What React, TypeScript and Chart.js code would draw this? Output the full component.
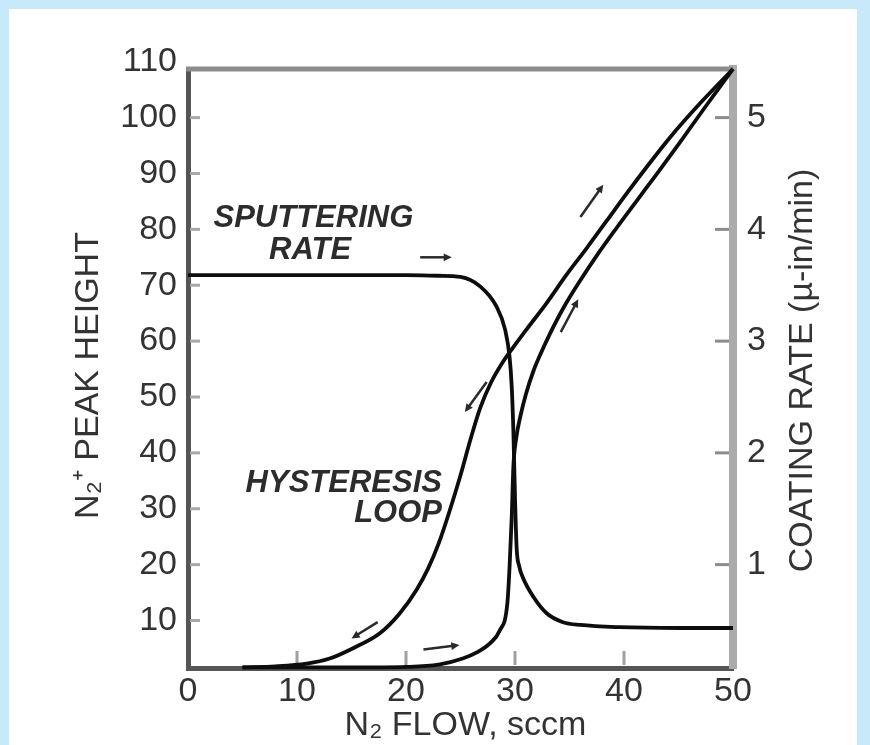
import React, { useEffect, useRef } from "react";
import { Chart, registerables } from "chart.js";

Chart.register(...registerables);

const FONT = '"Liberation Sans", Arial, Helvetica, sans-serif';

// ---- axes ----
const xTickValues = [0, 10, 20, 30, 40, 50];
const heightTickValues = [10, 20, 30, 40, 50, 60, 70, 80, 90, 100, 110];
const rateTickValues = [1, 2, 3, 4, 5];
const X_MIN = 0;
const X_MAX = 50;
const HEIGHT_MIN = 1.5;
const HEIGHT_MAX = 108.7;
const HEIGHT_PER_RATE = 20;

const xTitle = "N₂ FLOW, sccm";
const leftTitle = "N₂⁺ PEAK HEIGHT";
const rightTitle = "COATING RATE (µ-in/min)";

// ---- sputtering (coating) rate, right axis ----
const sputterFlow = [0, 10, 20, 23, 25, 26.8, 28.3, 29.1, 29.5, 29.7, 29.85, 30.0, 30.15, 30.4, 30.7, 31.7, 32.9, 34.4, 36.0, 39.6, 45, 50];
const sputterRate = [3.59, 3.59, 3.59, 3.585, 3.575, 3.49, 3.31, 3.1, 2.86, 2.59, 2.2, 1.6, 1.15, 0.98, 0.89, 0.71, 0.565, 0.485, 0.46, 0.44, 0.433, 0.433];

// ---- hysteresis loop, N2+ peak height, left axis ----
const loopLeftFlow = [5, 8, 10.9, 13.0, 15.1, 17.6, 19.4, 21.0, 22.0, 23.0, 24.0, 25.0, 25.9, 26.8, 27.8, 28.8, 29.8, 31.1, 32.9, 34.7, 36.6, 38.4, 40.2, 42.1, 44.2, 47.0, 50];
const loopLeftHeight = [1.6, 1.8, 2.3, 3.2, 5.0, 7.7, 11.2, 15.6, 19.2, 23.8, 29.6, 36.0, 42.3, 48.0, 52.6, 56.0, 58.8, 62.2, 66.8, 71.8, 76.7, 81.5, 86.3, 91.2, 96.4, 102.6, 108.7];

const loopRightFlow = [5, 15, 20, 23, 25.2, 26.5, 27.7, 28.6, 29.3, 29.5, 29.7, 29.85, 30.1, 30.5, 31.0, 31.7, 32.3, 33.2, 34.4, 36.0, 37.5, 39.3, 41.2, 43.0, 45.1, 47.6, 50];
const loopRightHeight = [1.6, 1.6, 1.7, 2.1, 3.2, 4.3, 5.9, 8.2, 13.1, 19.5, 28.5, 37.5, 42.5, 46.6, 50.5, 54.7, 57.5, 61.3, 65.8, 70.9, 75.3, 80.2, 85.2, 89.9, 95.5, 102.3, 108.7];

// ---- direction arrows (flow, height) from -> to ----
const arrowFromX = [21.3, 36.0, 34.2, 27.4, 17.4, 21.6];
const arrowFromY = [75.0, 82.2, 61.6, 52.7, 9.7, 4.8];
const arrowToX = [24.2, 38.1, 35.8, 25.4, 15.0, 24.9];
const arrowToY = [75.0, 88.0, 67.5, 47.3, 6.8, 5.6];

// ---- in-plot notes ----
const noteText = ["SPUTTERING", "RATE", "HYSTERESIS", "LOOP"];
const noteX = [11.5, 11.2, 23.3, 23.3];
const noteY = [82.0, 76.3, 34.6, 29.1];
const noteAlign = ["center", "center", "right", "right"];

const toPoints = (xs: number[], ys: number[]) => xs.map((x, i) => ({ x, y: ys[i] }));

const decorPlugin = {
  id: "decor",
  beforeDraw(chart: any) {
    const { ctx, width, height } = chart;
    ctx.save();
    ctx.fillStyle = "#c7e9fa";
    ctx.fillRect(0, 0, width, height);
    ctx.fillStyle = "#ffffff";
    ctx.fillRect(9, 9, width - 9 - 13, height - 9);
    ctx.restore();
  },
  beforeDatasetsDraw(chart: any) {
    const { ctx, chartArea: ca, scales } = chart;
    ctx.save();
    // top frame line
    ctx.strokeStyle = "#8c8c8c";
    ctx.lineWidth = 5;
    ctx.beginPath();
    ctx.moveTo(ca.left - 2, ca.top);
    ctx.lineTo(ca.right, ca.top);
    ctx.stroke();
    // inward tick marks
    ctx.fillStyle = "#a8a8a8";
    heightTickValues.forEach((v) => {
      if (v <= HEIGHT_MIN || v >= HEIGHT_MAX) return;
      const py = scales.y.getPixelForValue(v);
      ctx.fillRect(ca.left + 2, py - 1.5, 10, 3);
    });
    ctx.fillStyle = "#8c8c8c";
    rateTickValues.forEach((v) => {
      const py = scales.y2.getPixelForValue(v);
      ctx.fillRect(ca.right - 18, py - 1.5, 14, 3);
    });
    ctx.fillStyle = "#a0a0a0";
    xTickValues.forEach((v) => {
      if (v <= X_MIN || v >= X_MAX) return;
      const px = scales.x.getPixelForValue(v);
      ctx.fillRect(px - 1.5, ca.bottom - 17, 3, 14);
    });
    ctx.restore();
  },
  afterDatasetsDraw(chart: any) {
    const { ctx, scales } = chart;
    ctx.save();
    ctx.strokeStyle = "#2a2a2a";
    ctx.fillStyle = "#2a2a2a";
    ctx.lineWidth = 2.5;
    arrowFromX.forEach((fx, i) => {
      const x1 = scales.x.getPixelForValue(fx);
      const y1 = scales.y.getPixelForValue(arrowFromY[i]);
      const x2 = scales.x.getPixelForValue(arrowToX[i]);
      const y2 = scales.y.getPixelForValue(arrowToY[i]);
      const a = Math.atan2(y2 - y1, x2 - x1);
      const h = 9;
      ctx.beginPath();
      ctx.moveTo(x1, y1);
      ctx.lineTo(x2 - 4 * Math.cos(a), y2 - 4 * Math.sin(a));
      ctx.stroke();
      ctx.beginPath();
      ctx.moveTo(x2, y2);
      ctx.lineTo(x2 - h * Math.cos(a - 0.45), y2 - h * Math.sin(a - 0.45));
      ctx.lineTo(x2 - h * Math.cos(a + 0.45), y2 - h * Math.sin(a + 0.45));
      ctx.closePath();
      ctx.fill();
    });
    ctx.fillStyle = "#2c2c2c";
    ctx.font = `italic bold 31px ${FONT}`;
    ctx.textBaseline = "middle";
    noteText.forEach((t, i) => {
      ctx.textAlign = noteAlign[i] as CanvasTextAlign;
      ctx.fillText(t, scales.x.getPixelForValue(noteX[i]), scales.y.getPixelForValue(noteY[i]));
    });
    ctx.restore();
  },
  afterDraw(chart: any) {
    const { ctx, chartArea: ca } = chart;
    const midY = (ca.top + ca.bottom) / 2;
    ctx.save();
    ctx.fillStyle = "#333333";
    ctx.font = `34px ${FONT}`;
    ctx.textAlign = "center";
    ctx.textBaseline = "middle";
    ctx.fillText(xTitle, (ca.left + ca.right) / 2 + 5, ca.bottom + 58);
    ctx.save();
    ctx.translate(ca.left - 99, midY + 7);
    ctx.rotate(-Math.PI / 2);
    ctx.fillText(leftTitle, 0, 0);
    ctx.restore();
    ctx.save();
    ctx.translate(ca.right + 70, midY + 2);
    ctx.rotate(-Math.PI / 2);
    ctx.fillText(rightTitle, 0, 0);
    ctx.restore();
    ctx.restore();
  },
};

export default function App() {
  const canvasRef = useRef<HTMLCanvasElement | null>(null);

  useEffect(() => {
    if (!canvasRef.current) return;
    const lineStyle = {
      borderColor: "#0d0d0d",
      borderWidth: 3.8,
      pointRadius: 0,
      fill: false,
      cubicInterpolationMode: "monotone" as const,
      clip: false as any,
    };
    const tickFont = { family: FONT, size: 34 };
    const chart = new Chart(canvasRef.current, {
      type: "line",
      data: {
        datasets: [
          { ...lineStyle, label: "Sputtering rate", data: toPoints(sputterFlow, sputterRate), yAxisID: "y2" },
          { ...lineStyle, label: "Hysteresis loop (decreasing)", data: toPoints(loopLeftFlow, loopLeftHeight), yAxisID: "y" },
          { ...lineStyle, label: "Hysteresis loop (increasing)", data: toPoints(loopRightFlow, loopRightHeight), yAxisID: "y" },
        ],
      },
      options: {
        animation: false,
        responsive: false,
        maintainAspectRatio: false,
        layout: { padding: { top: 69, left: 0, right: 0, bottom: 0 } },
        plugins: { legend: { display: false }, tooltip: { enabled: false } },
        scales: {
          x: {
            type: "linear",
            position: "bottom",
            min: X_MIN,
            max: X_MAX,
            afterBuildTicks: (s: any) => {
              s.ticks = xTickValues.map((v) => ({ value: v }));
            },
            afterFit: (s: any) => {
              s.height = 77;
            },
            grid: { drawOnChartArea: false, drawTicks: false },
            border: { color: "#555555", width: 5 },
            ticks: { font: tickFont, color: "#333333", padding: 3, autoSkip: false, maxRotation: 0 },
          },
          y: {
            type: "linear",
            position: "left",
            min: HEIGHT_MIN,
            max: HEIGHT_MAX,
            afterBuildTicks: (s: any) => {
              s.ticks = heightTickValues.map((v) => ({ value: v }));
            },
            afterFit: (s: any) => {
              s.width = 188;
            },
            grid: { drawOnChartArea: false, drawTicks: false },
            border: { color: "#555555", width: 5 },
            ticks: { font: tickFont, color: "#333333", padding: 11, autoSkip: false },
          },
          y2: {
            type: "linear",
            position: "right",
            min: HEIGHT_MIN / HEIGHT_PER_RATE,
            max: HEIGHT_MAX / HEIGHT_PER_RATE,
            afterBuildTicks: (s: any) => {
              s.ticks = rateTickValues.map((v) => ({ value: v }));
            },
            afterFit: (s: any) => {
              s.width = 137;
            },
            grid: { drawOnChartArea: false, drawTicks: false },
            border: { color: "#ababab", width: 8 },
            ticks: { font: tickFont, color: "#333333", padding: 14, autoSkip: false },
          },
        },
      },
      plugins: [decorPlugin],
    } as any);
    return () => chart.destroy();
  }, []);

  return (
    <div style={{ position: "absolute", left: 0, top: 0, width: 870, height: 745 }}>
      <canvas ref={canvasRef} width={870} height={745} style={{ display: "block" }} />
    </div>
  );
}
